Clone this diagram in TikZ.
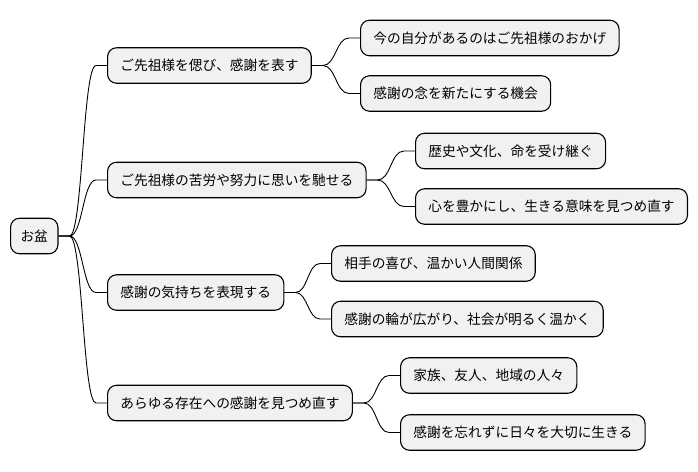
\documentclass[tikz,border=0pt]{standalone}
\usepackage{fontspec}
\newfontfamily\jpfont{Noto Sans CJK JP}
\usetikzlibrary{calc}
\definecolor{boxfill}{HTML}{F1F1F1}
\tikzset{
  mmbox/.style={draw=black, line width=1.1pt, fill=boxfill, rounded corners=9pt,
    minimum height=35.5pt, inner xsep=12.8pt, inner ysep=0pt, anchor=west,
    font=\jpfont\fontsize{13.7}{16}\selectfont},
  mmedge/.style={draw=black, line width=0.9pt}
}
\newcommand\mmlink[2]{%
  \draw[mmedge] let \p1=(#1.east), \p2=(#2.west) in
    (\p1) -- (\x1+11pt,\y1) .. controls (\x1/2+\x2/2,\y1) and (\x1/2+\x2/2,\y2) .. (\x2-11pt,\y2) -- (\p2);}
\begin{document}
\begin{tikzpicture}[x=1pt,y=-1pt]
\useasboundingbox (0,0) rectangle (698,471);
\node[mmbox, inner xsep=10pt] (r) at (10,236) {お盆};
\node[mmbox] (a1) at (107,65.5) {ご先祖様を偲び、感謝を表す};
\node[mmbox] (a2) at (107,180) {ご先祖様の苦労や努力に思いを馳せる};
\node[mmbox] (a3) at (107,292.5) {感謝の気持ちを表現する};
\node[mmbox] (a4) at (107,403) {あらゆる存在への感謝を見つめ直す};
\node[mmbox] (b11) at (360,38) {今の自分があるのはご先祖様のおかげ};
\node[mmbox] (b12) at (360,93.5) {感謝の念を新たにする機会};
\node[mmbox] (b21) at (415,151) {歴史や文化、命を受け継ぐ};
\node[mmbox] (b22) at (415,206.5) {心を豊かにし、生きる意味を見つめ直す};
\node[mmbox] (b31) at (331,263.5) {相手の喜び、温かい人間関係};
\node[mmbox] (b32) at (331,319) {感謝の輪が広がり、社会が明るく温かく};
\node[mmbox] (b41) at (400,375.5) {家族、友人、地域の人々};
\node[mmbox] (b42) at (400,432.5) {感謝を忘れずに日々を大切に生きる};
\mmlink{r}{a1}\mmlink{r}{a2}\mmlink{r}{a3}\mmlink{r}{a4}
\mmlink{a1}{b11}\mmlink{a1}{b12}
\mmlink{a2}{b21}\mmlink{a2}{b22}
\mmlink{a3}{b31}\mmlink{a3}{b32}
\mmlink{a4}{b41}\mmlink{a4}{b42}
\end{tikzpicture}
\end{document}
